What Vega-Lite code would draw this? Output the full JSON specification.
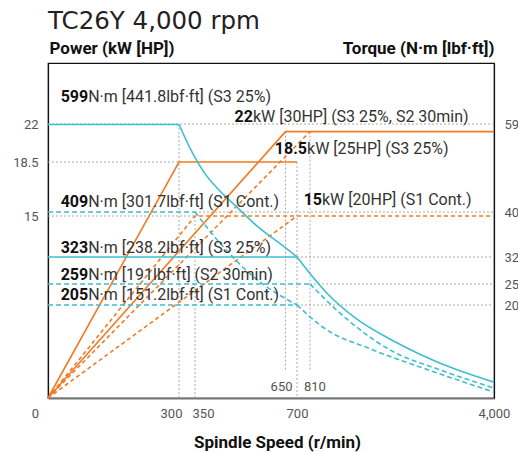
{
  "$schema": "https://vega.github.io/schema/vega-lite/v6.json",
  "width": 446,
  "height": 335,
  "autosize": {"type": "none"},
  "padding": {"left": 48, "top": 63, "right": 24, "bottom": 54},
  "background": "white",
  "config": {
    "view": {"stroke": "#111", "strokeWidth": 1.2},
    "font": "Roboto",
    "text": {"font": "Roboto"}
  },
  "title": {
    "text": "TC26Y 4,000 rpm",
    "anchor": "start",
    "frame": "group",
    "fontSize": 24.5,
    "font": "DejaVu Sans",
    "fontWeight": "normal",
    "color": "#222",
    "offset": 5
  },
  "datasets": {
    "power": [
      {"line": "S3 18.5kW", "style": "solid", "rpm": 0, "kW": 0},
      {"line": "S3 18.5kW", "style": "solid", "rpm": 300, "kW": 18.5},
      {"line": "S3 18.5kW", "style": "solid", "rpm": 700, "kW": 18.5},
      {"line": "S3 22kW", "style": "solid", "rpm": 0, "kW": 0},
      {"line": "S3 22kW", "style": "solid", "rpm": 650, "kW": 21.3},
      {"line": "S3 22kW", "style": "solid", "rpm": 4000, "kW": 21.3},
      {"line": "S2 22kW", "style": "dashed", "rpm": 0, "kW": 0},
      {"line": "S2 22kW", "style": "dashed", "rpm": 810, "kW": 21.3},
      {"line": "S1 15kW a", "style": "dashed", "rpm": 0, "kW": 0},
      {"line": "S1 15kW a", "style": "dashed", "rpm": 350, "kW": 15},
      {"line": "S1 15kW a", "style": "dashed", "rpm": 4000, "kW": 15},
      {"line": "S1 15kW b", "style": "dashed", "rpm": 0, "kW": 0},
      {"line": "S1 15kW b", "style": "dashed", "rpm": 700, "kW": 15}
    ],
    "torque": [
      {"line": "c1", "style": "solid", "rpm": 0, "Nm": 599},
      {"line": "c1", "style": "solid", "rpm": 300, "Nm": 599},
      {"line": "c2", "style": "solid", "rpm": 300, "Nm": 599},
      {"line": "c2", "style": "solid", "rpm": 340, "Nm": 540},
      {"line": "c2", "style": "solid", "rpm": 380, "Nm": 495},
      {"line": "c2", "style": "solid", "rpm": 432, "Nm": 455},
      {"line": "c2", "style": "solid", "rpm": 488, "Nm": 420},
      {"line": "c2", "style": "solid", "rpm": 560, "Nm": 380},
      {"line": "c2", "style": "solid", "rpm": 640, "Nm": 345},
      {"line": "c2", "style": "solid", "rpm": 700, "Nm": 323},
      {"line": "c3", "style": "solid", "rpm": 0, "Nm": 323},
      {"line": "c3", "style": "solid", "rpm": 700, "Nm": 323},
      {"line": "c4", "style": "solid", "rpm": 700, "Nm": 323},
      {"line": "c4", "style": "solid", "rpm": 1100, "Nm": 236},
      {"line": "c4", "style": "solid", "rpm": 1600, "Nm": 176},
      {"line": "c4", "style": "solid", "rpm": 2300, "Nm": 123},
      {"line": "c4", "style": "solid", "rpm": 3100, "Nm": 75},
      {"line": "c4", "style": "solid", "rpm": 4000, "Nm": 35},
      {"line": "d1", "style": "dashed", "rpm": 0, "Nm": 409},
      {"line": "d1", "style": "dashed", "rpm": 350, "Nm": 409},
      {"line": "d2", "style": "dashed", "rpm": 350, "Nm": 409},
      {"line": "d2", "style": "dashed", "rpm": 432, "Nm": 350},
      {"line": "d2", "style": "dashed", "rpm": 541, "Nm": 278},
      {"line": "d2", "style": "dashed", "rpm": 700, "Nm": 205},
      {"line": "d3", "style": "dashed", "rpm": 0, "Nm": 259},
      {"line": "d3", "style": "dashed", "rpm": 810, "Nm": 259},
      {"line": "d4", "style": "dashed", "rpm": 810, "Nm": 259},
      {"line": "d4", "style": "dashed", "rpm": 1330, "Nm": 187},
      {"line": "d4", "style": "dashed", "rpm": 2197, "Nm": 106},
      {"line": "d4", "style": "dashed", "rpm": 3064, "Nm": 62},
      {"line": "d4", "style": "dashed", "rpm": 4000, "Nm": 22},
      {"line": "d5", "style": "dashed", "rpm": 0, "Nm": 205},
      {"line": "d5", "style": "dashed", "rpm": 700, "Nm": 205},
      {"line": "d6", "style": "dashed", "rpm": 700, "Nm": 205},
      {"line": "d6", "style": "dashed", "rpm": 1035, "Nm": 156},
      {"line": "d6", "style": "dashed", "rpm": 1902, "Nm": 106},
      {"line": "d6", "style": "dashed", "rpm": 2769, "Nm": 66},
      {"line": "d6", "style": "dashed", "rpm": 4000, "Nm": 13}
    ],
    "gridPower": [
      {"kW": 22, "rpm": 0, "rpm2": 4000},
      {"kW": 18.5, "rpm": 0, "rpm2": 300},
      {"kW": 15, "rpm": 0, "rpm2": 350}
    ],
    "gridTorque": [
      {"Nm": 409, "rpm": 350, "rpm2": 4000},
      {"Nm": 323, "rpm": 700, "rpm2": 4000},
      {"Nm": 259, "rpm": 810, "rpm2": 4000},
      {"Nm": 205, "rpm": 700, "rpm2": 4000}
    ],
    "gridSpeed": [
      {"rpm": 300, "kW": 22, "kW2": 0},
      {"rpm": 350, "kW": 15, "kW2": 0},
      {"rpm": 650, "kW": 21.3, "kW2": 2.3},
      {"rpm": 700, "kW": 18.5, "kW2": 0},
      {"rpm": 810, "kW": 21.3, "kW2": 2.3}
    ],
    "speedLabels": [
      {"rpm": 650, "kW": 0.9, "label": "650"},
      {"rpm": 810, "kW": 0.9, "label": "810"}
    ],
    "torqueLabels": [
      {"rpm": 92, "Nm": 648, "num": "599", "rest": "N·m [441.8lbf·ft] (S3 25%)"},
      {"rpm": 92, "Nm": 420, "num": "409", "rest": "N·m [301.7lbf·ft] (S1 Cont.)"},
      {"rpm": 92, "Nm": 331, "num": "323", "rest": "N·m [238.2lbf·ft] (S3 25%)"},
      {"rpm": 92, "Nm": 268, "num": "259", "rest": "N·m [191lbf·ft] (S2 30min)"},
      {"rpm": 92, "Nm": 218, "num": "205", "rest": "N·m [151.2lbf·ft] (S1 Cont.)"}
    ],
    "powerLabels": [
      {"rpm": 542, "kW": 22.16, "num": "22", "rest": "kW [30HP] (S3 25%, S2 30min)"},
      {"rpm": 785, "kW": 19.24, "num": "18.5", "rest": "kW [25HP] (S3 25%)"},
      {"rpm": 1018, "kW": 15.71, "num": "15", "rest": "kW [20HP] (S1 Cont.)"}
    ]
  },
  "encoding": {
    "x": {
      "field": "rpm",
      "type": "quantitative",
      "scale": {"domain": [0, 300, 350, 650, 700, 810, 4000], "range": [0, 131, 147, 237.5, 249, 262, 446], "nice": false, "zero": false},
      "axis": {
        "values": [0, 300, 350, 700, 4000],
        "format": ",d",
        "labelFlush": false,
        "labelOverlap": false,
        "labelBound": false,
        "ticks": false,
        "grid": false,
        "domainColor": "#777",
        "domainWidth": 2,
        "labelPadding": 9,
        "labelFontSize": 13,
        "labelColor": "#555",
        "labelOffset": {"condition": [{"test": "datum.value === 0", "value": -13}, {"test": "datum.value === 300", "value": -8}, {"test": "datum.value === 350", "value": 8}], "value": 0},
        "title": "Spindle Speed (r/min)",
        "titleFontSize": 17,
        "titleFontWeight": "bold",
        "titleColor": "#111",
        "titleX": 229,
        "titleY": 49,
        "titleAlign": "center",
        "titleBaseline": "alphabetic"
      }
    }
  },
  "layer": [
    {
      "data": {"name": "gridPower"},
      "mark": {"type": "rule", "color": "#aaa", "strokeDash": [2, 2], "strokeWidth": 1},
      "encoding": {
        "x2": {"field": "rpm2"},
        "y": {"field": "kW", "type": "quantitative", "scale": {"domain": [0, 15, 18.5, 22, 27], "range": [335, 153, 99, 61, 0], "nice": false, "zero": false}, "axis": null}
      }
    },
    {
      "data": {"name": "gridTorque"},
      "mark": {"type": "rule", "color": "#aaa", "strokeDash": [2, 2], "strokeWidth": 1},
      "encoding": {
        "x2": {"field": "rpm2"},
        "y": {"field": "Nm", "type": "quantitative", "scale": {"domain": [0, 205, 259, 323, 409, 599, 733], "range": [335, 242, 221, 194, 149, 61.5, 0], "nice": false, "zero": false}, "axis": null}
      }
    },
    {
      "data": {"name": "gridSpeed"},
      "mark": {"type": "rule", "color": "#aaa", "strokeDash": [2, 2], "strokeWidth": 1},
      "encoding": {
        "y": {"field": "kW", "type": "quantitative", "scale": {"domain": [0, 15, 18.5, 22, 27], "range": [335, 153, 99, 61, 0], "nice": false, "zero": false}, "axis": null},
        "y2": {"field": "kW2"}
      }
    },
    {
      "data": {"name": "power"},
      "transform": [{"filter": "datum.style === 'solid'"}],
      "mark": {"type": "line", "color": "#f37a22", "strokeWidth": 1.6},
      "encoding": {
        "detail": {"field": "line"},
        "y": {
          "field": "kW", "type": "quantitative",
          "scale": {"domain": [0, 15, 18.5, 22, 27], "range": [335, 153, 99, 61, 0], "nice": false, "zero": false},
          "axis": {
            "orient": "left",
            "values": [15, 18.5, 22],
            "format": ".1~f",
            "ticks": false,
            "grid": false,
            "domainColor": "#111",
            "domainWidth": 1.2,
            "labelPadding": 10,
            "labelFontSize": 13,
            "labelColor": "#555",
            "title": "Power (kW [HP])",
            "titleAngle": 0,
            "titleX": 1,
            "titleY": -10,
            "titleAlign": "left",
            "titleBaseline": "alphabetic",
            "titleFontSize": 17,
            "titleFontWeight": "bold",
            "titleColor": "#111"
          }
        }
      }
    },
    {
      "data": {"name": "power"},
      "transform": [{"filter": "datum.style === 'dashed'"}],
      "mark": {"type": "line", "color": "#f37a22", "strokeWidth": 1.6, "strokeDash": [4, 3]},
      "encoding": {
        "detail": {"field": "line"},
        "y": {"field": "kW", "type": "quantitative", "scale": {"domain": [0, 15, 18.5, 22, 27], "range": [335, 153, 99, 61, 0], "nice": false, "zero": false}, "axis": null}
      }
    },
    {
      "data": {"name": "torque"},
      "transform": [{"filter": "datum.style === 'solid'"}],
      "mark": {"type": "line", "color": "#3dbfd1", "strokeWidth": 1.6, "interpolate": "monotone"},
      "encoding": {
        "detail": {"field": "line"},
        "y": {
          "field": "Nm", "type": "quantitative",
          "scale": {"domain": [0, 205, 259, 323, 409, 599, 733], "range": [335, 242, 221, 194, 149, 61.5, 0], "nice": false, "zero": false},
          "axis": {
            "orient": "right",
            "values": [205, 259, 323, 409, 599],
            "labelExpr": "floor(datum.value / 10)",
            "ticks": false,
            "grid": false,
            "domainColor": "#111",
            "domainWidth": 1.2,
            "labelPadding": 10,
            "labelFontSize": 13,
            "labelColor": "#555",
            "title": "Torque (N·m [lbf·ft])",
            "titleAngle": 0,
            "titleX": 0,
            "titleY": -10,
            "titleAlign": "right",
            "titleBaseline": "alphabetic",
            "titleFontSize": 17,
            "titleFontWeight": "bold",
            "titleColor": "#111"
          }
        }
      }
    },
    {
      "data": {"name": "torque"},
      "transform": [{"filter": "datum.style === 'dashed'"}],
      "mark": {"type": "line", "color": "#3dbfd1", "strokeWidth": 1.6, "strokeDash": [5, 3], "interpolate": "monotone"},
      "encoding": {
        "detail": {"field": "line"},
        "y": {"field": "Nm", "type": "quantitative", "scale": {"domain": [0, 205, 259, 323, 409, 599, 733], "range": [335, 242, 221, 194, 149, 61.5, 0], "nice": false, "zero": false}, "axis": null}
      }
    },
    {
      "data": {"name": "speedLabels"},
      "transform": [{"filter": "datum.label === '650'"}],
      "mark": {"type": "text", "fontSize": 13, "color": "#555", "align": "right", "baseline": "middle", "dx": 7},
      "encoding": {
        "text": {"field": "label"},
        "y": {"field": "kW", "type": "quantitative", "scale": {"domain": [0, 15, 18.5, 22, 27], "range": [335, 153, 99, 61, 0], "nice": false, "zero": false}, "axis": null}
      }
    },
    {
      "data": {"name": "speedLabels"},
      "transform": [{"filter": "datum.label === '810'"}],
      "mark": {"type": "text", "fontSize": 13, "color": "#555", "align": "left", "baseline": "middle", "dx": -6},
      "encoding": {
        "text": {"field": "label"},
        "y": {"field": "kW", "type": "quantitative", "scale": {"domain": [0, 15, 18.5, 22, 27], "range": [335, 153, 99, 61, 0], "nice": false, "zero": false}, "axis": null}
      }
    },
    {
      "data": {"name": "torqueLabels"},
      "mark": {"type": "text", "fontSize": 16, "fontWeight": "bold", "color": "#111", "align": "right", "baseline": "alphabetic"},
      "encoding": {
        "text": {"field": "num"},
        "y": {"field": "Nm", "type": "quantitative", "scale": {"domain": [0, 205, 259, 323, 409, 599, 733], "range": [335, 242, 221, 194, 149, 61.5, 0], "nice": false, "zero": false}, "axis": null}
      }
    },
    {
      "data": {"name": "torqueLabels"},
      "mark": {"type": "text", "fontSize": 16, "color": "#333", "align": "left", "baseline": "alphabetic"},
      "encoding": {
        "text": {"field": "rest"},
        "y": {"field": "Nm", "type": "quantitative", "scale": {"domain": [0, 205, 259, 323, 409, 599, 733], "range": [335, 242, 221, 194, 149, 61.5, 0], "nice": false, "zero": false}, "axis": null}
      }
    },
    {
      "data": {"name": "powerLabels"},
      "mark": {"type": "text", "fontSize": 16, "fontWeight": "bold", "color": "#111", "align": "right", "baseline": "alphabetic"},
      "encoding": {
        "text": {"field": "num"},
        "y": {"field": "kW", "type": "quantitative", "scale": {"domain": [0, 15, 18.5, 22, 27], "range": [335, 153, 99, 61, 0], "nice": false, "zero": false}, "axis": null}
      }
    },
    {
      "data": {"name": "powerLabels"},
      "mark": {"type": "text", "fontSize": 16, "color": "#333", "align": "left", "baseline": "alphabetic"},
      "encoding": {
        "text": {"field": "rest"},
        "y": {"field": "kW", "type": "quantitative", "scale": {"domain": [0, 15, 18.5, 22, 27], "range": [335, 153, 99, 61, 0], "nice": false, "zero": false}, "axis": null}
      }
    }
  ],
  "resolve": {"scale": {"y": "independent"}}
}
